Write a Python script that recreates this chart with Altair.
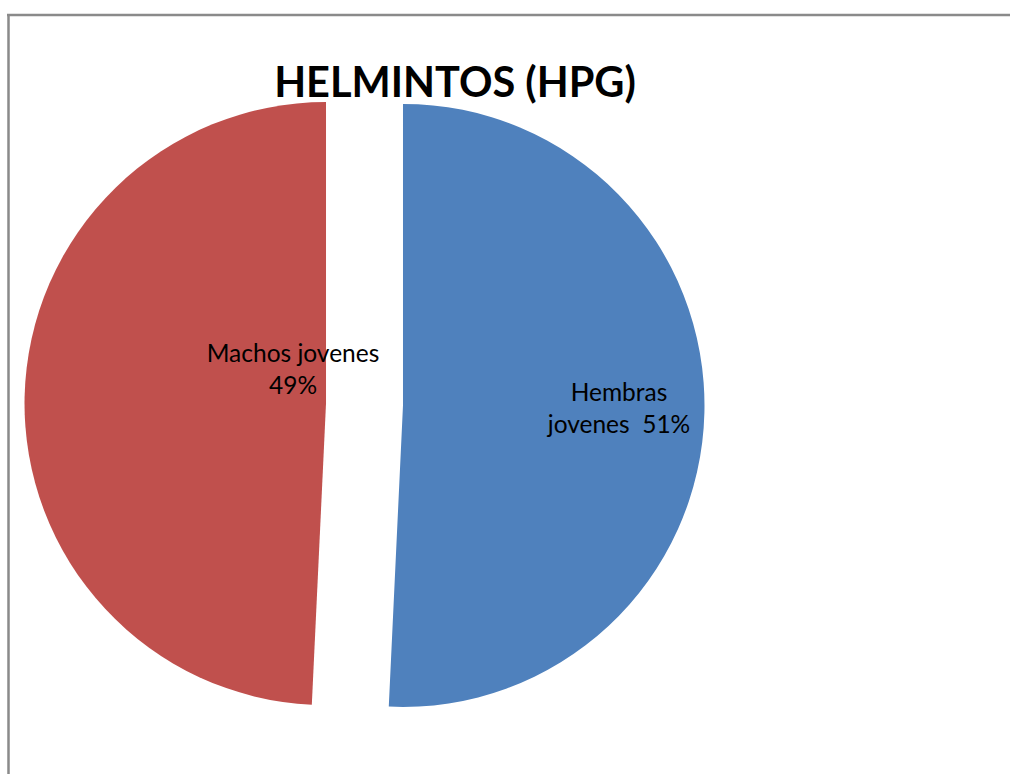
import altair as alt
import pandas as pd

# --- data ---
categorias = ["Hembras jovenes", "Machos jovenes"]
valores = [50.75, 49.25]
etiquetas = ["Hembras\njovenes\u00a0 51%", "Machos jovenes\n49%"]
titulo = "HELMINTOS (HPG)"

# --- style / layout constants ---
colores = ["#4F81BD", "#C0504D"]
CX, CY = 364.5, 404.5      # pie centre (px)
RADIO = 301.5              # pie radius (px)
EXPLOTA = 38.5             # explosion distance (px)
FUENTE = "Lato"

df = pd.DataFrame({"categoria": categorias, "valor": valores, "etiqueta": etiquetas})

base = (
    alt.Chart(df)
    .transform_joinaggregate(total="sum(valor)")
    .transform_window(acum="sum(valor)", frame=[None, 0])
    .transform_calculate(
        t1="2*PI*datum.acum/datum.total",
        t0="2*PI*(datum.acum-datum.valor)/datum.total",
    )
    .transform_calculate(mid="(datum.t0+datum.t1)/2")
    .transform_calculate(
        px=f"{CX}+{EXPLOTA}*sin(datum.mid)",
        py=f"{CY}-{EXPLOTA}*cos(datum.mid)",
    )
)

arcos = base.mark_arc(radius=RADIO).encode(
    theta=alt.Theta("t0:Q", scale=None),
    theta2=alt.Theta2("t1:Q"),
    x=alt.X("px:Q", scale=None),
    y=alt.Y("py:Q", scale=None),
    color=alt.Color("categoria:N", scale=alt.Scale(domain=categorias, range=colores), legend=None),
)

def etiqueta(cat, dx, dy):
    return base.transform_filter(alt.datum.categoria == cat).mark_text(
        font=FUENTE, fontSize=24.5, color="black", align="center", baseline="middle",
        lineBreak="\n", lineHeight=32, dx=dx, dy=dy,
    ).encode(
        x=alt.X("px:Q", scale=None),
        y=alt.Y("py:Q", scale=None),
        text="etiqueta:N",
    )

texto_h = etiqueta(categorias[0], 216, -11)
texto_m = etiqueta(categorias[1], -33, -49)

uno = alt.Data(values=[{"t": titulo}])
tit = alt.Chart(uno).mark_text(
    font=FUENTE, fontSize=41.5, fontWeight="bold", color="black", align="center", baseline="alphabetic"
).encode(x=alt.value(455), y=alt.value(97), text="t:N")

borde_izq = alt.Chart(uno).mark_rule(color="#8a8a8a", strokeWidth=2.5).encode(
    x=alt.value(8.5), y=alt.value(14), y2=alt.value(774)
)
borde_sup = alt.Chart(uno).mark_rule(color="#8a8a8a", strokeWidth=2.5).encode(
    x=alt.value(7), x2=alt.value(1010), y=alt.value(15)
)

chart = (
    alt.layer(arcos, texto_h, texto_m, tit, borde_izq, borde_sup)
    .properties(width=1010, height=774, padding=0, autosize=alt.AutoSizeParams(type="none"), background="white")
    .configure_view(stroke=None)
)

chart.save("out.html", embed_options={"renderer": "svg", "actions": False})
